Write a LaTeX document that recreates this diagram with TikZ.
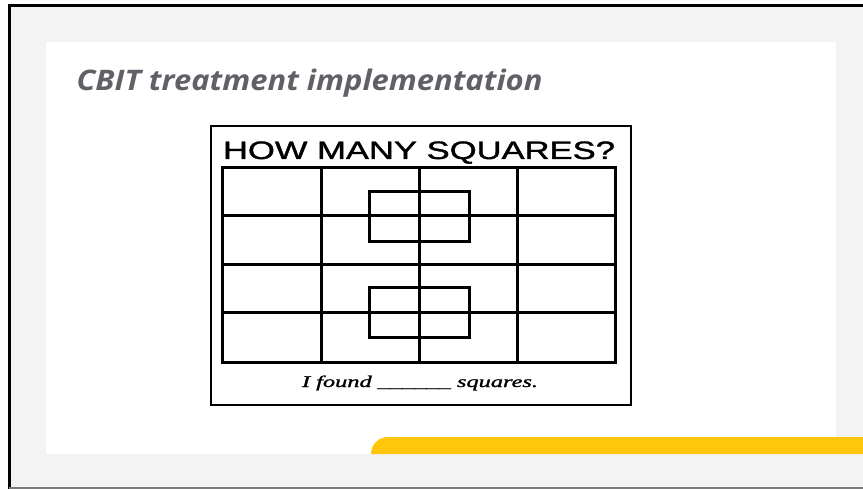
\documentclass[tikz,border=0pt]{standalone}
\usepackage{fontspec}
\usepackage{graphicx}
\setmainfont{Liberation Serif}
\newfontfamily\titlefont{Open Sans}
\newfontfamily\arialfont[FakeBold=1.2]{Liberation Sans}
\newfontfamily\footfont[ItalicFeatures={FakeBold=1.2}]{Liberation Serif}
\definecolor{slidebg}{HTML}{F2F3F2}
\definecolor{barcolor}{HTML}{FFC60B}
\definecolor{titlegray}{HTML}{606167}
\definecolor{edgegray}{HTML}{7A7A7A}
\tikzset{
  gridline/.style={line width=3pt, line cap=rect},
  framebox/.style={line width=1.6pt},
  txt/.style={inner sep=0pt, outer sep=0pt}
}
\begin{document}
\begin{tikzpicture}[x=1pt,y=-1pt]
\useasboundingbox (0,0) rectangle (863,489);
\fill[white] (0,0) rectangle (863,489);
% slide background
\fill[slidebg] (9,5.5) rectangle (863,488);
\draw[black, line width=2.5pt] (9.3,489) -- (9.3,5.5) -- (863,5.5);
\draw[edgegray, line width=1.5pt] (9.3,488) -- (863,488);
% white panel
\fill[white] (46,42) rectangle (836,454);
% yellow bar
\fill[fill=barcolor] (371,454) [rounded corners=17pt] -- (371,437) [sharp corners] -- (863,437) -- (863,454) -- cycle;
% title
\node[txt, anchor=base west, text=titlegray, font=\titlefont\bfseries\itshape\fontsize{27}{32}\selectfont] (title) at (76.5,90.5) {\resizebox{466pt}{21.5pt}{CBIT treatment implementation}};
% picture frame
\draw[framebox] (211,126) rectangle (631,405);
\node[txt, anchor=base, font=\arialfont] (head) at (419,159) {\resizebox{392pt}{17.6pt}{HOW MANY SQUARES?}};
% grid
\draw[gridline] (222.7,167.7) rectangle (615,363);
\foreach \xx in {321,419,517} \draw[gridline] (\xx,167.7) -- (\xx,363);
\foreach \yy in {216,265,313} \draw[gridline] (222.7,\yy) -- (615,\yy);
% inner squares
\draw[gridline] (369,191.7) rectangle (469,241.7);
\draw[gridline] (369,288) rectangle (469,338);
% footer
\node[txt, anchor=base, font=\footfont\itshape] (foot) at (420,387) {\resizebox{236pt}{11.5pt}{I found \_\_\_\_\_\_ squares.}};
\end{tikzpicture}
\end{document}
